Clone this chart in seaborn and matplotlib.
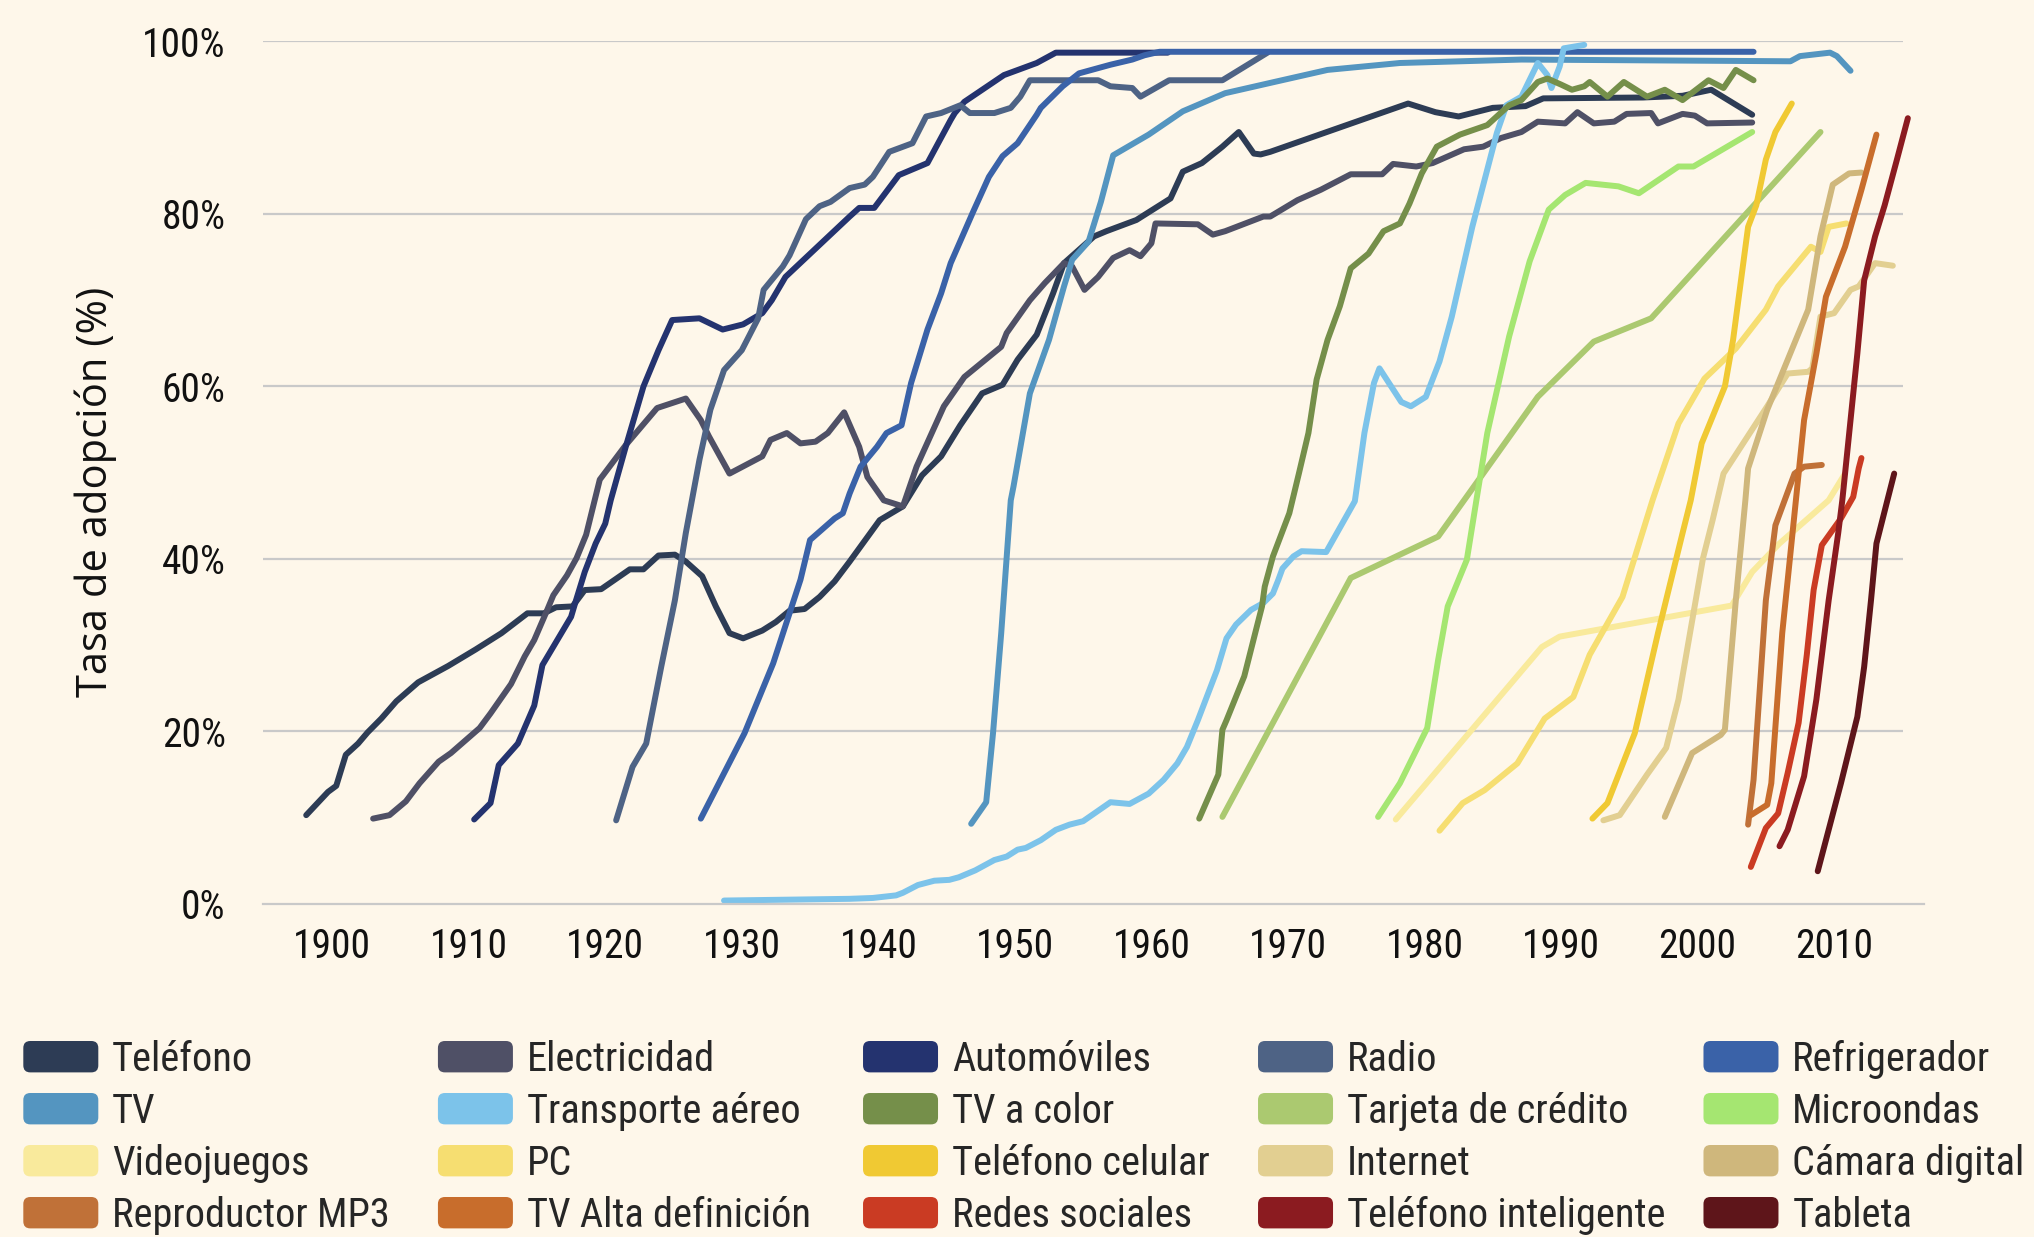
import os
import matplotlib
matplotlib.use("Agg")
import matplotlib.pyplot as plt
import seaborn as sns
import pandas as pd
from matplotlib import font_manager
from matplotlib.font_manager import FontProperties
from matplotlib.patches import Patch, FancyBboxPatch
from matplotlib.legend_handler import HandlerPatch

# (anio, tasa de adopcion %)
telefono = [(1898.1, 10.3), (1899.7, 13.0), (1900.3, 13.7), (1901.0, 17.3), (1901.9, 18.6), (1902.6, 19.9),
            (1903.6, 21.5), (1904.7, 23.5), (1906.3, 25.7), (1908.5, 27.6), (1910.5, 29.5), (1912.4, 31.4),
            (1914.3, 33.7), (1915.5, 33.7), (1916.4, 34.4), (1917.6, 34.5), (1918.5, 36.4), (1919.7, 36.5),
            (1921.8, 38.8), (1922.8, 38.8), (1923.9, 40.4), (1925.1, 40.5), (1925.9, 39.7), (1927.1, 38.0),
            (1928.1, 34.5), (1929.1, 31.4), (1930.1, 30.8), (1931.5, 31.7), (1932.5, 32.7), (1933.5, 34.0),
            (1934.6, 34.2), (1935.7, 35.6), (1936.8, 37.4), (1937.9, 39.7), (1940.1, 44.5), (1941.8, 46.1),
            (1943.2, 49.7), (1944.6, 51.9), (1946.0, 55.5), (1947.6, 59.2), (1949.1, 60.2), (1950.2, 63.1),
            (1951.6, 66.0), (1952.8, 70.8), (1953.6, 74.3), (1955.8, 77.4), (1956.7, 78.0), (1958.9, 79.3),
            (1961.4, 81.8), (1962.3, 84.9), (1963.7, 85.9), (1965.2, 87.8), (1966.4, 89.5), (1967.5, 87.0),
            (1968.0, 86.9), (1968.7, 87.2), (1978.8, 92.8), (1980.8, 91.8), (1982.5, 91.3), (1985.0, 92.3),
            (1987.4, 92.5), (1988.7, 93.4), (1996.0, 93.5), (1998.9, 93.7), (2001.0, 94.4), (2004.0, 91.5)]
electricidad = [(1903.0, 9.9), (1904.2, 10.3), (1905.4, 11.9), (1906.4, 14.0), (1907.8, 16.5), (1908.7, 17.5),
                (1910.8, 20.4), (1911.6, 22.1), (1913.1, 25.5), (1914.1, 28.7), (1914.8, 30.6), (1915.7, 33.9),
                (1916.2, 35.8), (1917.2, 38.1), (1917.9, 40.1), (1918.6, 42.8), (1919.6, 49.2), (1921.5, 53.2),
                (1923.8, 57.5), (1925.9, 58.6), (1927.0, 56.1), (1927.6, 54.2), (1929.1, 49.9), (1931.5, 51.9),
                (1932.1, 53.8), (1933.3, 54.6), (1934.3, 53.4), (1935.4, 53.6), (1936.3, 54.6), (1937.5, 57.0),
                (1938.6, 53.0), (1939.2, 49.5), (1940.4, 46.8), (1941.8, 46.1), (1942.8, 50.7), (1944.8, 57.7),
                (1946.3, 61.1), (1949.0, 64.6), (1949.4, 66.2), (1951.1, 70.0), (1952.2, 72.0), (1953.6, 74.3),
                (1954.2, 73.9), (1955.1, 71.2), (1956.1, 72.7), (1957.2, 74.9), (1958.4, 75.8), (1959.2, 75.1),
                (1960.0, 76.6), (1960.3, 78.9), (1963.4, 78.8), (1964.5, 77.6), (1965.4, 78.0), (1968.2, 79.7),
                (1968.7, 79.7), (1970.7, 81.6), (1972.4, 82.8), (1974.6, 84.6), (1976.9, 84.6), (1977.7, 85.8),
                (1979.4, 85.5), (1980.6, 85.9), (1982.9, 87.5), (1984.3, 87.8), (1985.6, 88.8), (1987.1, 89.5),
                (1988.3, 90.7), (1990.3, 90.5), (1991.2, 91.8), (1992.4, 90.5), (1993.9, 90.7), (1994.8, 91.6),
                (1996.6, 91.7), (1997.1, 90.5), (1998.9, 91.6), (1999.8, 91.4), (2000.7, 90.5), (2004.0, 90.6)]
automoviles = [(1910.4, 9.8), (1911.6, 11.7), (1912.2, 16.1), (1913.6, 18.6), (1914.8, 23.0), (1915.4, 27.7),
               (1917.5, 33.3), (1917.8, 34.9), (1918.5, 38.5), (1919.3, 41.8), (1920.0, 44.1), (1920.4, 46.8),
               (1921.5, 53.0), (1922.8, 60.0), (1923.9, 64.2), (1924.9, 67.7), (1926.9, 67.9), (1928.6, 66.6),
               (1930.1, 67.2), (1931.5, 68.5), (1932.2, 70.0), (1933.2, 72.7), (1937.9, 79.7), (1938.6, 80.7),
               (1939.7, 80.7), (1941.5, 84.5), (1943.6, 85.9), (1945.3, 90.9), (1945.6, 91.7), (1946.3, 93.0),
               (1949.2, 96.1), (1951.6, 97.5), (1953.0, 98.7), (1961.2, 98.7)]
radio = [(1920.8, 9.7), (1922.0, 15.9), (1923.0, 18.6), (1924.1, 27.5), (1925.1, 35.2), (1925.9, 43.0),
         (1926.9, 51.5), (1927.7, 57.3), (1928.7, 61.9), (1930.0, 64.2), (1931.2, 67.9), (1931.6, 71.2),
         (1933.0, 73.9), (1933.5, 75.2), (1934.7, 79.4), (1935.7, 80.9), (1936.5, 81.4), (1937.9, 83.0),
         (1939.0, 83.4), (1939.6, 84.3), (1940.8, 87.2), (1942.5, 88.2), (1943.5, 91.3), (1944.6, 91.7),
         (1946.0, 92.6), (1946.7, 91.7), (1948.5, 91.7), (1949.7, 92.3), (1950.4, 93.6), (1951.1, 95.5),
         (1956.1, 95.5), (1957.0, 94.8), (1958.6, 94.6), (1959.2, 93.6), (1961.3, 95.5), (1965.2, 95.5),
         (1968.5, 98.7)]
refrigerador = [(1927.0, 9.9), (1930.2, 19.8), (1932.3, 27.9), (1934.3, 37.6), (1935.0, 42.2), (1936.8, 44.7),
                (1937.4, 45.3), (1937.9, 47.6), (1938.7, 50.7), (1939.9, 53.0), (1940.6, 54.6), (1941.7, 55.5),
                (1942.4, 60.4), (1943.6, 66.6), (1944.6, 70.8), (1945.3, 74.3), (1946.9, 80.1), (1948.1, 84.3),
                (1949.1, 86.7), (1950.2, 88.2), (1951.6, 91.5), (1951.9, 92.3), (1953.5, 94.8), (1954.7, 96.3),
                (1957.0, 97.3), (1958.6, 97.9), (1959.5, 98.4), (1960.6, 98.8), (2004.1, 98.8)]
tv = [(1946.8, 9.3), (1947.9, 11.8), (1948.4, 19.8), (1949.0, 31.4), (1949.7, 46.8), (1949.9, 48.4),
      (1951.1, 59.2), (1952.5, 65.4), (1953.6, 71.6), (1954.2, 74.7), (1955.4, 76.8), (1956.3, 81.4),
      (1957.2, 86.8), (1959.8, 89.2), (1962.3, 91.9), (1965.4, 94.0), (1969.0, 95.3), (1972.9, 96.7),
      (1978.2, 97.5), (1987.1, 97.9), (2006.8, 97.7), (2007.5, 98.3), (2009.7, 98.7), (2010.2, 98.3),
      (2011.2, 96.6)]
transporte_aereo = [(1928.7, 0.4), (1937.9, 0.6), (1939.6, 0.7), (1941.3, 1.0), (1941.8, 1.3), (1942.9, 2.2),
                    (1944.1, 2.7), (1945.2, 2.8), (1945.9, 3.1), (1947.1, 3.9), (1948.5, 5.1), (1949.4, 5.5),
                    (1950.2, 6.3), (1950.8, 6.5), (1951.9, 7.4), (1953.0, 8.6), (1954.0, 9.2), (1955.0, 9.6),
                    (1957.0, 11.8), (1958.4, 11.6), (1959.8, 12.8), (1960.9, 14.4), (1961.9, 16.3), (1962.6, 18.2),
                    (1963.4, 21.3), (1964.8, 27.1), (1965.5, 30.8), (1966.2, 32.4), (1967.3, 34.1), (1968.2, 34.9),
                    (1968.9, 36.0), (1969.3, 37.6), (1969.6, 38.9), (1970.4, 40.3), (1971.0, 40.9), (1972.8, 40.8),
                    (1974.9, 46.7), (1975.6, 54.6), (1976.3, 60.4), (1976.7, 62.1), (1978.3, 58.2), (1979.0, 57.7),
                    (1980.1, 58.8), (1981.1, 62.9), (1982.0, 68.1), (1983.5, 78.5), (1985.3, 89.4), (1986.0, 92.6),
                    (1987.1, 93.6), (1988.3, 97.5), (1989.0, 96.1), (1989.3, 94.6), (1989.9, 97.1), (1990.2, 99.2),
                    (1991.7, 99.6)]
tv_color = [(1963.5, 9.9), (1964.9, 15.0), (1965.2, 20.2), (1965.5, 21.3), (1966.8, 26.4), (1967.6, 31.4),
            (1968.1, 34.5), (1968.3, 36.8), (1968.9, 40.3), (1970.1, 45.3), (1970.8, 49.9), (1971.5, 54.6),
            (1972.1, 60.8), (1972.9, 65.4), (1973.8, 69.3), (1974.6, 73.7), (1975.9, 75.4), (1977.0, 78.0),
            (1978.2, 78.9), (1978.9, 81.2), (1979.8, 84.7), (1980.9, 87.8), (1982.6, 89.2), (1984.6, 90.3),
            (1986.2, 92.6), (1987.1, 93.2), (1988.3, 95.3), (1989.0, 95.7), (1990.0, 95.0), (1990.8, 94.4),
            (1991.7, 94.8), (1992.1, 95.3), (1993.4, 93.6), (1994.6, 95.3), (1996.3, 93.6), (1997.6, 94.4),
            (1998.9, 93.2), (2000.8, 95.5), (2001.9, 94.6), (2002.8, 96.7), (2004.1, 95.5)]
tarjeta_credito = [(1965.2, 10.1), (1974.6, 37.8), (1981.0, 42.6), (1983.8, 48.8), (1988.3, 58.8), (1992.4, 65.2),
                   (1996.6, 67.9), (2009.0, 89.5)]
microondas = [(1976.6, 10.1), (1978.2, 14.0), (1980.2, 20.4), (1981.0, 28.3), (1981.7, 34.5), (1983.1, 39.9),
              (1983.8, 46.8), (1984.6, 54.6), (1986.2, 65.8), (1987.7, 74.5), (1989.1, 80.5), (1990.3, 82.2),
              (1991.8, 83.6), (1994.2, 83.2), (1995.7, 82.4), (1998.6, 85.5), (1999.7, 85.5), (2004.0, 89.5)]
videojuegos = [(1977.9, 9.8), (1988.6, 29.8), (1989.9, 31.0), (2002.5, 34.6), (2004.0, 38.5), (2006.0, 41.8),
               (2009.6, 46.8), (2010.8, 49.9)]
pc = [(1981.1, 8.5), (1982.8, 11.7), (1984.4, 13.2), (1986.8, 16.3), (1988.8, 21.5), (1990.9, 24.0),
      (1992.1, 28.9), (1994.5, 35.6), (1996.7, 46.8), (1998.6, 55.7), (2000.5, 60.9), (2002.8, 64.4),
      (2005.0, 68.9), (2005.9, 71.6), (2008.3, 76.2), (2009.0, 75.6), (2009.6, 78.5), (2010.9, 78.9)]
telefono_celular = [(1992.3, 9.9), (1993.4, 11.7), (1995.4, 19.8), (1997.1, 31.4), (1998.9, 43.0), (1999.5, 46.8),
                    (2000.3, 53.4), (2002.0, 60.0), (2002.6, 65.4), (2003.7, 78.5), (2004.3, 81.0), (2005.0, 86.3),
                    (2005.7, 89.5), (2006.9, 92.8)]
internet = [(1993.1, 9.7), (1994.3, 10.3), (1996.3, 15.0), (1997.7, 18.1), (1998.6, 23.7), (2000.4, 40.1),
            (2001.1, 44.5), (2001.9, 49.9), (2005.1, 57.7), (2006.6, 61.5), (2008.1, 61.7), (2008.4, 62.1),
            (2009.0, 68.1), (2010.0, 68.5), (2011.2, 71.2), (2011.8, 71.6), (2013.0, 74.3), (2014.3, 74.0)]
camara_digital = [(1997.6, 10.1), (1999.6, 17.5), (2001.7, 19.6), (2002.0, 20.2), (2002.8, 35.2), (2003.5, 46.8),
                  (2003.7, 50.5), (2005.1, 57.3), (2008.1, 68.9), (2009.0, 77.4), (2009.9, 83.4), (2011.1, 84.7),
                  (2012.0, 84.8)]
reproductor_mp3 = [(2003.7, 9.2), (2004.1, 14.4), (2005.0, 35.2), (2005.7, 43.9), (2007.1, 49.9), (2007.8, 50.7),
                   (2009.1, 50.9)]
tv_alta_def = [(2003.9, 10.3), (2005.1, 11.5), (2005.4, 14.0), (2006.2, 31.4), (2007.2, 46.8), (2007.8, 56.1),
               (2008.7, 63.8), (2009.4, 70.4), (2010.8, 76.2), (2012.0, 82.8), (2013.1, 89.2)]
redes_sociales = [(2003.9, 4.3), (2005.0, 8.8), (2005.9, 10.5), (2006.6, 15.2), (2007.4, 21.0), (2008.0, 28.9),
                  (2008.5, 36.4), (2009.1, 41.6), (2010.5, 44.7), (2011.4, 47.2), (2011.8, 50.5), (2012.0, 51.7)]
telefono_inteligente = [(2006.0, 6.7), (2006.6, 8.6), (2007.8, 14.8), (2008.7, 23.7), (2009.6, 35.2), (2010.3, 43.0),
                        (2010.6, 46.8), (2011.7, 63.8), (2012.2, 72.3), (2013.0, 77.4), (2013.7, 81.0),
                        (2014.6, 86.3), (2015.4, 91.1)]
tableta = [(2008.8, 3.8), (2010.5, 14.0), (2011.7, 21.7), (2012.2, 27.5), (2012.7, 35.2), (2013.1, 41.8),
           (2013.9, 46.8), (2014.4, 49.9)]

names = ["Teléfono", "Electricidad", "Automóviles", "Radio", "Refrigerador",
         "TV", "Transporte aéreo", "TV a color", "Tarjeta de crédito", "Microondas",
         "Videojuegos", "PC", "Teléfono celular", "Internet", "Cámara digital",
         "Reproductor MP3", "TV Alta definición", "Redes sociales", "Teléfono inteligente", "Tableta"]
colors = ["#2D3C55", "#4F5066", "#24336F", "#4E6385", "#3A62A8",
          "#5495C0", "#7CC3EA", "#758F4A", "#ABC970", "#A5E671",
          "#F9EA9C", "#F6DE71", "#F0C933", "#E2CF91", "#CFB77C",
          "#C07138", "#C86D2C", "#CA3B23", "#8B1B20", "#5E151A"]
series = [telefono, electricidad, automoviles, radio, refrigerador,
          tv, transporte_aereo, tv_color, tarjeta_credito, microondas,
          videojuegos, pc, telefono_celular, internet, camara_digital,
          reproductor_mp3, tv_alta_def, redes_sociales, telefono_inteligente, tableta]

rows = []
for name, pts in zip(names, series):
    for x, y in pts:
        rows.append((name, x, y))
df = pd.DataFrame(rows, columns=["serie", "anio", "tasa"])

bg = "#FEF7EA"
grid = "#C9C9C9"
sns.set_style("white")
plt.rcParams["font.family"] = ["Roboto", "DejaVu Sans"]


def find_narrow():
    files = [f.fname for f in font_manager.fontManager.ttflist]
    for key in ["liberationsansnarrow-regular", "robotocondensed-regular", "notosans-condensed.",
                "opensans-condensed", "notosans-semicondensed.", "dejavusanscondensed."]:
        for fn in files:
            if key in os.path.basename(fn).lower():
                return fn
    for fn in files:
        b = os.path.basename(fn).lower()
        if ("condensed" in b or "narrow" in b) and not any(k in b for k in
                ["bold", "italic", "light", "black", "thin", "medium", "extra", "oblique"]):
            return fn
    return None


nfile = find_narrow()
def fprops():
    return FontProperties(fname=nfile) if nfile else FontProperties(family=["Roboto", "DejaVu Sans"])


fig = plt.figure(figsize=(20.34, 12.37), dpi=100, facecolor=bg)
renderer = fig.canvas.get_renderer()


def fit_size(text, target_px, max_pt):
    t = fig.text(0, 0, text, fontproperties=fprops(), fontsize=100)
    w = t.get_window_extent(renderer=renderer).width
    t.remove()
    return min(max_pt, 100 * target_px / w)


tick_fs = min(fit_size("1900", 78, 32), fit_size("100%", 86, 32))
leg_fs = fit_size("Teléfono inteligente", 318, 31)

ax = fig.add_axes([0.1294, 0.2692, 0.8163, 0.6973])
ax.set_facecolor(bg)

sns.lineplot(data=df, x="anio", y="tasa", hue="serie", hue_order=names,
             palette=dict(zip(names, colors)), sort=False, estimator=None,
             legend=False, ax=ax, clip_on=False,
             solid_capstyle="round", solid_joinstyle="round")
for ln in ax.get_lines():
    ln.set_linewidth(4.3)

ax.set_xlim(1894.95, 2016.55)
ax.set_ylim(0, 100)
ax.hlines([20, 40, 60, 80, 100], 1894.95, 2015.05, color=grid, lw=1.6, zorder=0)

for s in ["left", "right", "top"]:
    ax.spines[s].set_visible(False)
ax.spines["bottom"].set_color(grid)
ax.spines["bottom"].set_linewidth(1.6)

ax.set_yticks([0, 20, 40, 60, 80, 100])
ax.set_yticklabels([f"{v}%" for v in [0, 20, 40, 60, 80, 100]])
ax.set_xticks(list(range(1900, 2011, 10)))
ax.set_xticklabels([str(v) for v in range(1900, 2011, 10)])
ax.set_xticks(list(range(1895, 2016, 10)), minor=True)
ax.tick_params(axis="y", length=0, pad=27, labelcolor="#111111")
ax.tick_params(axis="x", which="major", length=0, pad=16.5, labelcolor="#111111")
ax.tick_params(axis="x", which="minor", length=9, width=1.6, color=grid, direction="out")
for lab in ax.get_xticklabels() + ax.get_yticklabels():
    fp = fprops()
    fp.set_size(tick_fs)
    lab.set_fontproperties(fp)
ax.set_xlabel("")
ax.set_ylabel("")

fig.text(0.0472, 0.6027, "Tasa de adopción (%)", rotation=90, ha="center", va="center",
         fontsize=30, color="#111111", family=["Open Sans", "DejaVu Sans"])


class RoundBox(HandlerPatch):
    def create_artists(self, legend, orig_handle, xdescent, ydescent, width, height, fontsize, trans):
        box = FancyBboxPatch((-xdescent, -ydescent), width, height,
                             boxstyle="round,pad=0,rounding_size=5",
                             facecolor=orig_handle.get_facecolor(), edgecolor="none", transform=trans)
        return [box]


# altura de linea del texto de la leyenda, para fijar el paso entre filas (52 px)
lp = fprops()
lp.set_size(leg_fs)
probe = fig.text(0, 0, "Teléfono", fontproperties=lp)
text_h_pt = probe.get_window_extent(renderer=renderer).height * 72 / fig.dpi
probe.remove()
row_pt = 52 * 72 / fig.dpi
spacing = max(0.0, (row_pt - max(text_h_pt, 23.8)) / leg_fs)

col_x = [0.01146, 0.2153, 0.4243, 0.6185, 0.8375]
legends = []
for c in range(5):
    handles = [Patch(facecolor=colors[r * 5 + c], label=names[r * 5 + c]) for r in range(4)]
    leg = fig.legend(handles=handles, loc="upper left", bbox_to_anchor=(col_x[c], 0.165),
                     bbox_transform=fig.transFigure, frameon=False, prop=lp,
                     handlelength=54 / leg_fs, handleheight=23.8 / leg_fs, handletextpad=10 / leg_fs,
                     labelspacing=spacing, borderpad=0, borderaxespad=0,
                     handler_map={Patch: RoundBox()})
    legends.append(leg)

fig.canvas.draw()
H = fig.bbox.height
for c, leg in enumerate(legends):
    bb = leg.legend_handles[0].get_window_extent(renderer=fig.canvas.get_renderer())
    dy = (H - 1041 * H / 1237) - bb.y1
    leg.set_bbox_to_anchor((col_x[c], 0.165 + dy / H), transform=fig.transFigure)

fig.savefig("out.png", dpi=100, facecolor=bg)
